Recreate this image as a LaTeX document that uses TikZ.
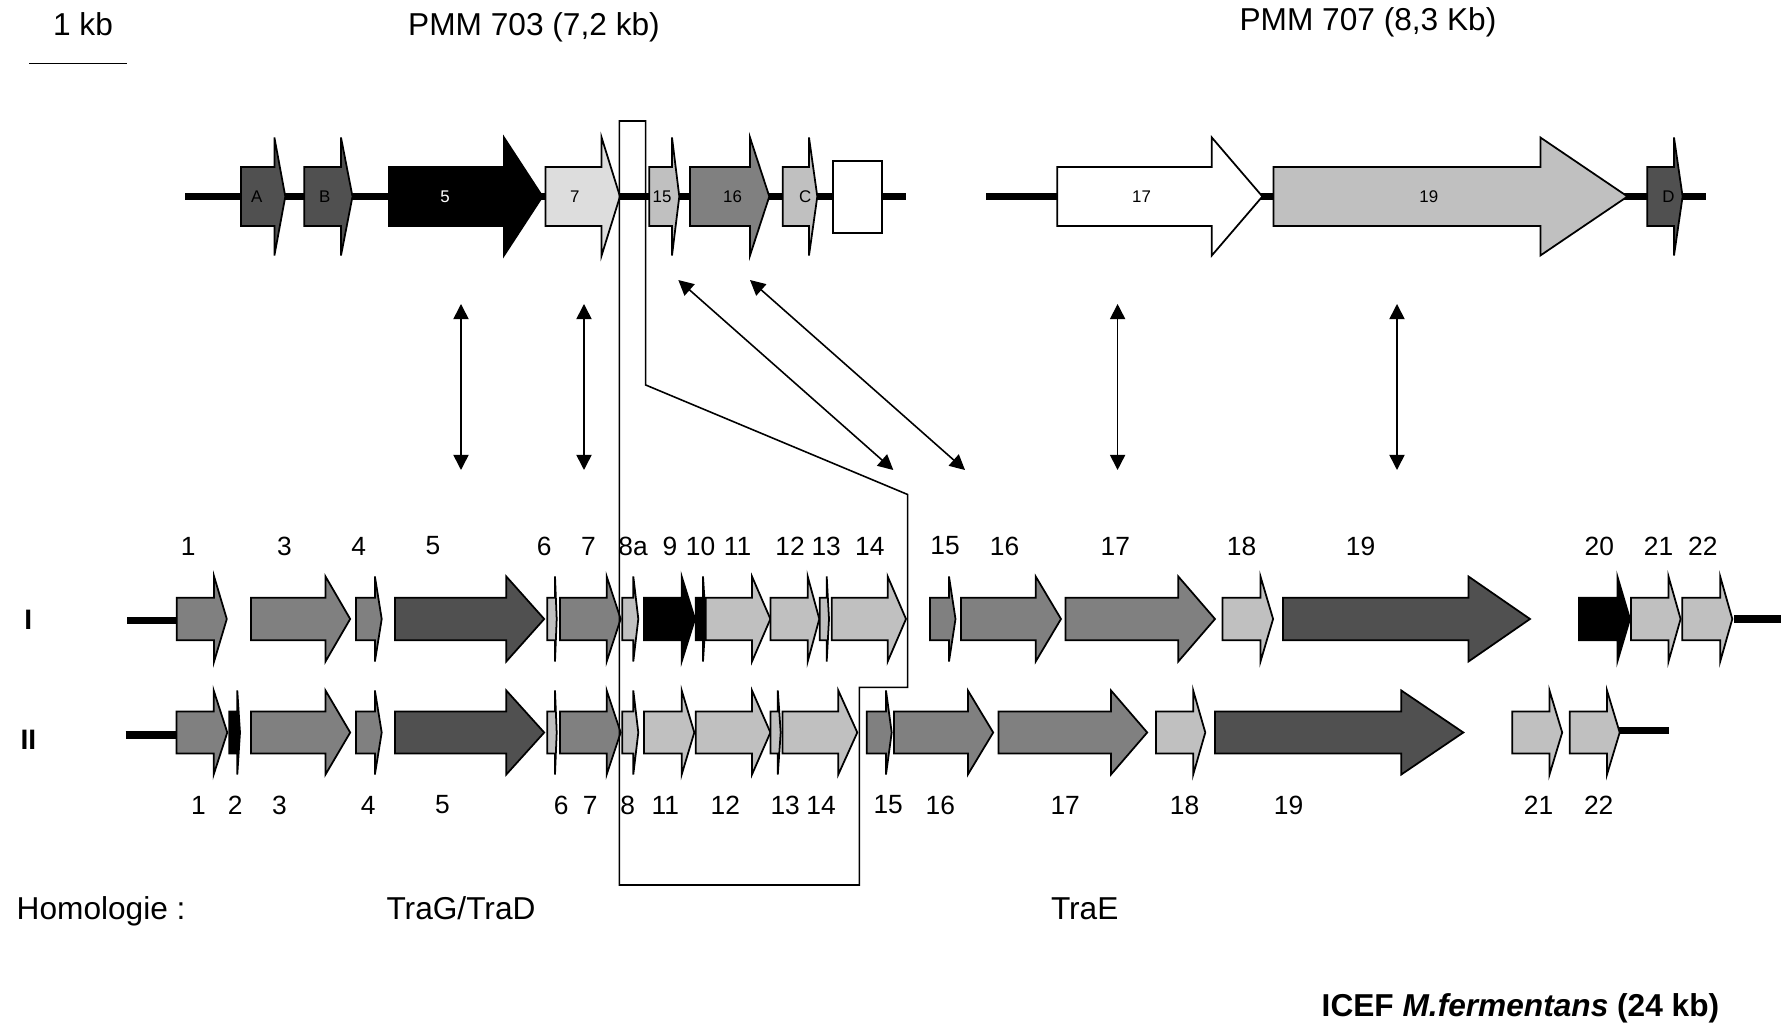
\documentclass[tikz,border=0pt]{standalone}
\usepackage{fontspec}
\setmainfont{Liberation Sans}
\usetikzlibrary{arrows.meta}
\definecolor{gdark}{HTML}{505050}
\definecolor{gmid}{HTML}{808080}
\definecolor{glight}{HTML}{C0C0C0}
\definecolor{gpale}{HTML}{DDDDDD}

\begin{document}
\begin{tikzpicture}[x=0.01cm,y=-0.01cm,>={Triangle[length=4.3pt,width=4.3pt]},
  gene/.style={draw,line width=0.5pt},
  backbone/.style={line width=2.1pt},
  title/.style={font=\fontsize{9}{11}\selectfont,anchor=base,inner sep=0pt},
  num/.style={font=\fontsize{7.5}{9}\selectfont},
  tag/.style={font=\fontsize{4.8}{6}\selectfont},
  link/.style={<->,line width=0.45pt}]
  \useasboundingbox (0,0) rectangle (1781,1025);
  % scale and titles
  \node[title] (kb) at (83,36) {1 kb};
  \coordinate (s0) at (29,63.5);
  \coordinate (s1) at (127,63.5);
  \draw[line width=0.45pt] (s0) -- (s1);
  \node[title] (pmm703) at (534,36) {PMM 703 (7,2 kb)};
  \node[title] (pmm707) at (1368,30.5) {PMM 707 (8,3 Kb)};
  % top backbones
  \draw[backbone] (185,196.5) -- (906,196.5);
  \draw[backbone] (986,196.5) -- (1706,196.5);
  \foreach \a/\h/\t/\c in {241/274.4/285.3/gdark, 304.3/341/352.5/gdark,
      389/504/542.5/black, 545.4/601.6/620/gpale, 649.3/672/679.3/glight,
      690/750/769.3/gmid, 782.7/809/817.3/glight, 1057.3/1211.8/1262.4/white,
      1273.6/1540.4/1627.5/glight, 1647.2/1674/1682.6/gdark}
    \filldraw[gene,fill=\c] (\a,167) -- (\h,167) -- (\h,137.5) -- (\t,196.5)
      -- (\h,255.5) -- (\h,226) -- (\a,226) -- cycle;
  \filldraw[gene,fill=white] (833.3,161) rectangle (882,233.3);
  \foreach \x/\t in {256.7/A, 324.8/B, 574.7/7, 662/15, 732.6/16, 805.3/C,
      1141.5/17, 1428.8/19, 1668.5/D}
    \node[tag] (top-\t) at (\x,196.5) {\t};
  \node[tag,text=white] (top-5) at (445,196.5) {5};
  % row I
  \node[font=\fontsize{8}{10}\selectfont\bfseries] (rowI) at (28.4,620) {I};
  \draw[backbone] (127.4,620.5) -- (177,620.5);
  \draw[backbone] (1734,619) -- (1781,619);
  \foreach \a/\h/\t/\c in {176.8/214.1/226.8/gmid, 250.9/325.5/350.2/gmid,
      355.9/374.9/381.7/gmid, 395/506.3/544.2/gdark, 547.3/555/556.7/glight,
      560/606.7/620.7/gmid, 622.3/633.3/638.3/glight, 644/681.7/695/black,
      695.7/703/705.7/black, 705.7/752/770.4/glight, 770.4/807.7/819.3/glight,
      819.7/826.7/829/glight, 831.7/887.7/906/glight, 930/949/955.5/gmid,
      961/1035.7/1061/gmid, 1065.6/1178.3/1215/gmid, 1222.5/1260.5/1273.1/glight,
      1283/1468.5/1530/gdark, 1578.9/1617.4/1630/black, 1631/1668.5/1680.6/glight,
      1682.3/1720.2/1732.3/glight}
    \filldraw[gene,fill=\c] (\a,597.8) -- (\h,597.8) -- (\h,576.5) -- (\t,619)
      -- (\h,661.5) -- (\h,640.2) -- (\a,640.2) -- cycle;
  \foreach \x/\t in {188.3/1, 284.5/3, 358.8/4, 433/5, 544.2/6, 588.4/7,
      633/8a, 670/9, 700.5/10, 737.5/11, 790/12, 826.2/13, 869.8/14, 945/15,
      1004.5/16, 1115.4/17, 1241.5/18, 1360.5/19, 1599.3/20, 1658.5/21, 1702.8/22}
    \node[num] (gI-\t) at (\x,546) {\t};
  % row II
  \node[font=\fontsize{8}{10}\selectfont\bfseries] (rowII) at (28.4,739.5) {II};
  \draw[backbone] (125.7,735) -- (177,735);
  \draw[backbone] (1619,730.7) -- (1668.5,730.7);
  \foreach \a/\h/\t/\c in {176.5/213.7/227.3/gmid, 229.3/237.3/240/black,
      250.9/325.5/350.2/gmid, 355.9/374.9/381.7/gmid, 395/506.3/544.2/gdark,
      547.3/555/556.7/glight, 560/606.7/620.7/gmid, 622.3/633.3/638.3/glight,
      644/681.7/694.3/glight, 695.7/752/770.4/glight, 770.4/777.8/780.7/glight,
      782.4/838.3/857.3/glight, 866.7/886/891.7/gmid, 894/967.9/993.2/gmid,
      998.4/1111/1147.2/gmid, 1155.9/1193.2/1205.3/glight, 1215/1401.3/1463.3/gdark,
      1512.2/1549.5/1562.2/glight, 1569.7/1607/1619.7/glight}
    \filldraw[gene,fill=\c] (\a,711.5) -- (\h,711.5) -- (\h,690.5) -- (\t,732.5)
      -- (\h,774.5) -- (\h,753.5) -- (\a,753.5) -- cycle;
  \foreach \x/\t in {198.5/1, 235.2/2, 279.5/3, 368.3/4, 442.5/5, 561.2/6,
      590.3/7, 627.8/8, 665.3/11, 725.4/12, 785.2/13, 821/14, 888.2/15,
      940.4/16, 1065.2/17, 1184.6/18, 1288.6/19, 1538.5/21, 1598.7/22}
    \node[num] (gII-\t) at (\x,805) {\t};
  % framed region
  \draw[line width=0.45pt] (619.3,121) -- (645.7,121) -- (645.7,385)
    -- (907.6,494.5) -- (907.6,687.3) -- (859.4,687.3) -- (859.4,885)
    -- (619.3,885) -- cycle;
  % homology links
  \foreach \x [count=\i] in {461,584,1117.6,1397} {
    \coordinate (u\i) at (\x,304);
    \coordinate (d\i) at (\x,470);
    \draw[link] (u\i) -- (d\i);
  }
  \coordinate (u5) at (678.3,280);
  \coordinate (d5) at (893.3,470);
  \draw[link] (u5) -- (d5);
  \coordinate (u6) at (750,280);
  \coordinate (d6) at (965,470);
  \draw[link] (u6) -- (d6);
  % bottom texts
  \node[title,anchor=base west] (homol) at (16,920) {Homologie :};
  \node[title] (trag) at (461,920) {TraG/TraD};
  \node[title] (trae) at (1084.7,920) {TraE};
  \node[title,anchor=base west,font=\fontsize{9}{11}\selectfont\bfseries] (icef)
    at (1321,1016.5) {ICEF \textit{M.fermentans} (24 kb)};
\end{tikzpicture}
\end{document}
